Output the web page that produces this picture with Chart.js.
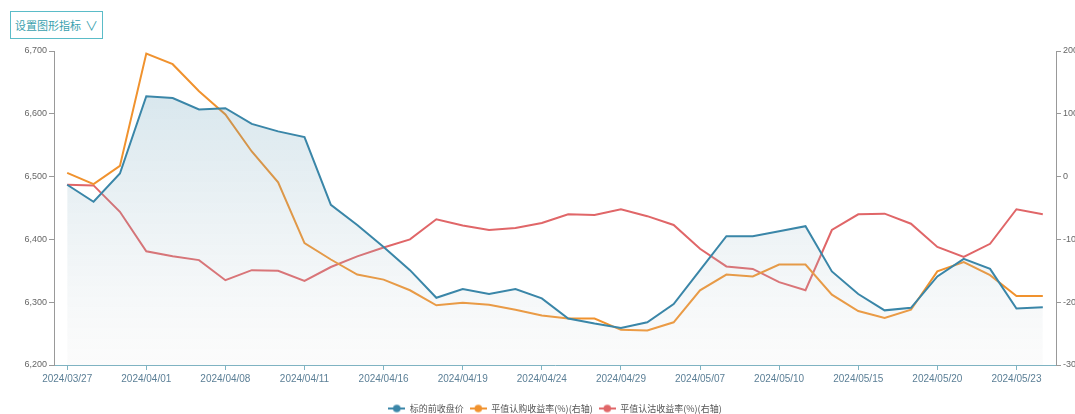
<!DOCTYPE html>
<html>
<head>
<meta charset="utf-8">
<script src="https://cdn.jsdelivr.net/npm/chart.js@4.4.1/dist/chart.umd.min.js"></script>
<style>
  html, body { margin: 0; padding: 0; background: #fff; overflow: hidden; }
  #wrap { position: relative; width: 1075px; height: 414px; overflow: hidden; }
  #btn {
    position: absolute; left: 10px; top: 11px; width: 93px; height: 28px;
    box-sizing: border-box; border: 1px solid #5bbcc8; background: #fff;
    color: #3a9fae; font: 11px "Noto Sans CJK SC", sans-serif;
    line-height: 26px; text-align: center; white-space: nowrap; z-index: 2;
  }
  #btn span { font-size: 13px; margin-left: 4px; }
</style>
</head>
<body>
<div id="wrap">
  <div id="btn">设置图形指标<span>∨</span></div>
  <canvas id="chart" width="1075" height="423"></canvas>
</div>
<script>
// trading days
const dates = [
  '2024/03/27', '2024/03/28', '2024/03/29', '2024/04/01', '2024/04/02', '2024/04/03',
  '2024/04/08', '2024/04/09', '2024/04/10', '2024/04/11', '2024/04/12', '2024/04/15',
  '2024/04/16', '2024/04/17', '2024/04/18', '2024/04/19', '2024/04/22', '2024/04/23',
  '2024/04/24', '2024/04/25', '2024/04/26', '2024/04/29', '2024/04/30', '2024/05/06',
  '2024/05/07', '2024/05/08', '2024/05/09', '2024/05/10', '2024/05/13', '2024/05/14',
  '2024/05/15', '2024/05/16', '2024/05/17', '2024/05/20', '2024/05/21', '2024/05/22',
  '2024/05/23', '2024/05/24'
]

// 标的前收盘价 (left axis)
const prevClose = [
  6487, 6460, 6505, 6628, 6625, 6607, 6609, 6584, 6572, 6563,
  6455, 6423, 6388, 6351, 6307, 6321, 6313, 6321, 6306, 6274,
  6266, 6259, 6268, 6297, 6351, 6405, 6405, 6413, 6421, 6349,
  6313, 6287, 6291, 6341, 6369, 6353, 6290, 6292
]

// 平值认购收益率(%) (right axis)
const callYield = [
  6, -12, 17, 196, 179, 136, 99, 40, -9, -106,
  -132, -156, -164, -181, -205, -201, -204, -212, -221, -226,
  -226, -244, -245, -232, -181, -156, -159, -140, -140, -188,
  -214, -225, -212, -151, -136, -157, -190, -190
]

// 平值认沽收益率(%) (right axis)
const putYield = [
  -13, -14, -56, -119, -127, -133, -165, -149, -150, -166,
  -144, -127, -113, -100, -68, -78, -85, -82, -74, -60,
  -61, -52, -63, -77, -115, -143, -147, -168, -181, -85,
  -60, -59, -75, -112, -128, -107, -52, -60
]

const leftTicks = { min: 6200, max: 6700, step: 100 }
const rightTicks = { min: -300, max: 200, step: 100 }

const BLUE = '#3a86a8'
const ORANGE = '#f0922e'
const RED = '#e06668'

// legend marker: short line with a dot in the middle
function marker(color) {
  const c = document.createElement('canvas')
  c.width = 17
  c.height = 10
  const g = c.getContext('2d')
  g.strokeStyle = color
  g.lineWidth = 2
  g.beginPath()
  g.moveTo(0, 5)
  g.lineTo(17, 5)
  g.stroke()
  g.fillStyle = color
  g.beginPath()
  g.arc(8.5, 5, 3.8, 0, Math.PI * 2)
  g.fill()
  return c
}

function areaFill(context) {
  const { ctx, chartArea } = context.chart
  if (!chartArea) return 'rgba(58,134,168,0.15)'
  const grad = ctx.createLinearGradient(0, chartArea.top, 0, chartArea.bottom)
  grad.addColorStop(0, 'rgba(58,134,168,0.24)')
  grad.addColorStop(1, 'rgba(225,225,225,0.12)')
  return grad
}

const font = '"Liberation Sans Narrow", "Liberation Sans", sans-serif'

new Chart(document.getElementById('chart'), {
  type: 'line',
  data: {
    labels: dates,
    datasets: [
      {
        label: '标的前收盘价',
        data: prevClose,
        yAxisID: 'y',
        borderColor: BLUE,
        backgroundColor: areaFill,
        fill: 'start',
        borderWidth: 2,
        pointRadius: 0,
        pointStyle: marker(BLUE),
        tension: 0
      },
      {
        label: '平值认购收益率(%)(右轴)',
        data: callYield,
        yAxisID: 'y1',
        borderColor: ORANGE,
        backgroundColor: ORANGE,
        borderWidth: 2,
        pointRadius: 0,
        pointStyle: marker(ORANGE),
        tension: 0
      },
      {
        label: '平值认沽收益率(%)(右轴)',
        data: putYield,
        yAxisID: 'y1',
        borderColor: RED,
        backgroundColor: RED,
        borderWidth: 2,
        pointRadius: 0,
        pointStyle: marker(RED),
        tension: 0
      }
    ]
  },
  options: {
    responsive: false,
    animation: false,
    layout: { padding: { top: 51, left: 0, right: 0, bottom: 0 } },
    plugins: {
      tooltip: { enabled: false },
      legend: {
        position: 'bottom',
        fullSize: false,
        labels: {
          usePointStyle: true,
          pointStyleWidth: 17,
          boxHeight: 10,
          padding: 6,
          color: '#555',
          font: { family: '"Noto Sans CJK SC", sans-serif', size: 9 }
        }
      }
    },
    scales: {
      x: {
        offset: true,
        afterFit: s => { s.height = 33 },
        border: { color: '#7fb3c2', width: 1 },
        grid: {
          drawOnChartArea: false,
          tickLength: 5,
          color: ctx => ctx.index % 3 === 0 ? '#7fb3c2' : 'transparent'
        },
        ticks: {
          autoSkip: false,
          maxRotation: 0,
          padding: 3,
          color: '#5b7f96',
          font: { family: font, size: 10 },
          callback: (v, i) => i % 3 === 0 ? dates[i] : ''
        }
      },
      y: {
        position: 'left',
        min: leftTicks.min,
        max: leftTicks.max,
        afterFit: s => { s.width = 54 },
        border: { color: '#999', width: 1 },
        grid: { drawOnChartArea: false, tickLength: 5, color: '#999' },
        ticks: {
          stepSize: leftTicks.step,
          padding: 2,
          color: '#666',
          font: { family: font, size: 9 }
        }
      },
      y1: {
        position: 'right',
        min: rightTicks.min,
        max: rightTicks.max,
        afterFit: s => { s.width = 19 },
        border: { color: '#999', width: 1 },
        grid: { drawOnChartArea: false, tickLength: 5, color: '#999' },
        ticks: {
          stepSize: rightTicks.step,
          padding: 2,
          color: '#666',
          font: { family: font, size: 9 }
        }
      }
    }
  }
})
</script>
</body>
</html>
